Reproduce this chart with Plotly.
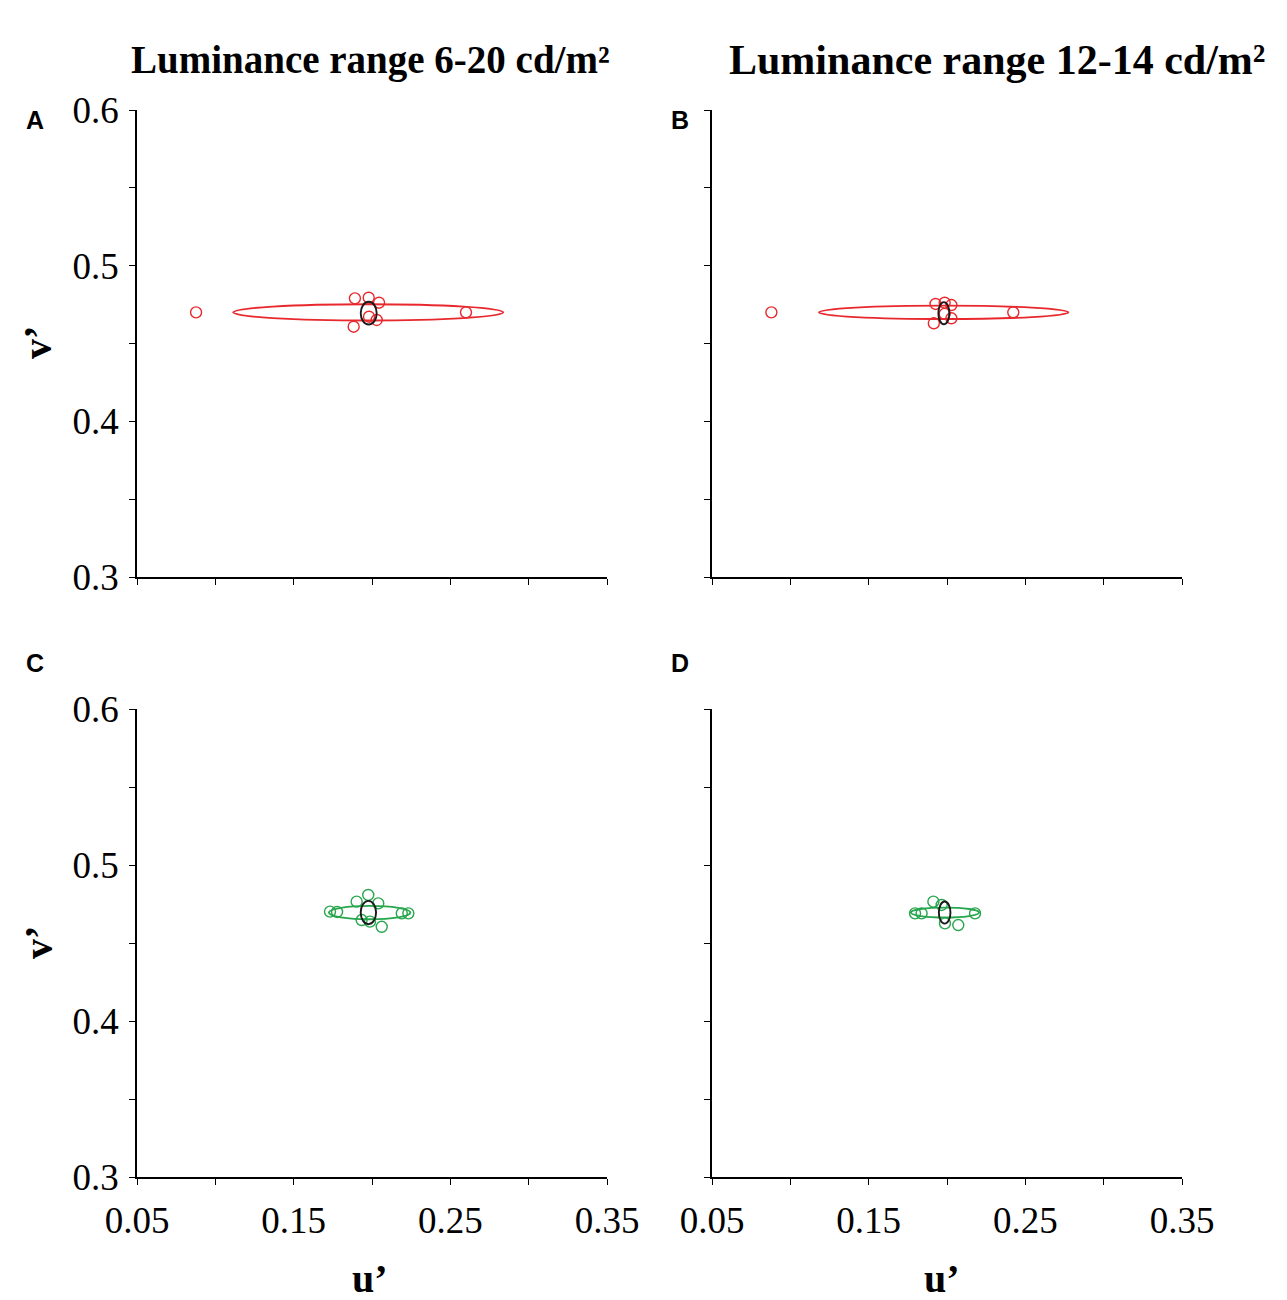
import plotly.graph_objects as go

# chromaticity data (u', v')
ua = [0.0877, 0.1891, 0.1979, 0.2045, 0.1981, 0.2030, 0.1883, 0.2600]
va = [0.470, 0.479, 0.4794, 0.4762, 0.4672, 0.4651, 0.4608, 0.470]

ub = [0.0879, 0.1927, 0.1985, 0.2028, 0.2028, 0.1916, 0.1985, 0.2423]
vb = [0.470, 0.4754, 0.4762, 0.4747, 0.4662, 0.4630, 0.469, 0.470]

uc = [0.1732, 0.1777, 0.1902, 0.1976, 0.2040, 0.1934, 0.1987, 0.2062, 0.2190, 0.2232]
vc = [0.4701, 0.4699, 0.4765, 0.4808, 0.4754, 0.4647, 0.4637, 0.4604, 0.4690, 0.4690]

ud = [0.1796, 0.1838, 0.1913, 0.1966, 0.1987, 0.2072, 0.2179]
vd = [0.469, 0.469, 0.4765, 0.4744, 0.4626, 0.4615, 0.469]

# ellipses: (center u, center v, semi-axis u, semi-axis v)
ell_a = [(0.1976, 0.470, 0.0862, 0.0052), (0.1979, 0.4695, 0.0051, 0.0073)]
ell_b = [(0.1979, 0.470, 0.0796, 0.0043), (0.1980, 0.4695, 0.0035, 0.0071)]
ell_c = [(0.1985, 0.4695, 0.0260, 0.0043), (0.1977, 0.4695, 0.0049, 0.0075)]
ell_d = [(0.1987, 0.4695, 0.0218, 0.0032), (0.1985, 0.4695, 0.0037, 0.0071)]

xticks = [0.05, 0.10, 0.15, 0.20, 0.25, 0.30, 0.35]
xlabels = ["0.05", "", "0.15", "", "0.25", "", "0.35"]
yticks = [0.30, 0.35, 0.40, 0.45, 0.50, 0.55, 0.60]
ylabels = ["0.3", "", "0.4", "", "0.5", "", "0.6"]

RED = "#e8282d"
GREEN = "#27a64d"
W, H = 1287, 1300
OFF = 8  # page margin of the browser, subtract from target pixel positions

panels = [
    ("x", "y", ua, va, ell_a, RED),
    ("x2", "y2", ub, vb, ell_b, RED),
    ("x3", "y3", uc, vc, ell_c, GREEN),
    ("x4", "y4", ud, vd, ell_d, GREEN),
]

fig = go.Figure()
shapes = []
for xr, yr, u, v, ells, col in panels:
    fig.add_trace(go.Scatter(
        x=u, y=v, xaxis=xr, yaxis=yr, mode="markers",
        marker=dict(symbol="circle-open", size=11, color=col, line=dict(width=1.4)),
        showlegend=False))
    for i, (cu, cv, au, av) in enumerate(ells):
        shapes.append(dict(type="circle", xref=xr, yref=yr,
                           x0=cu - au, x1=cu + au, y0=cv - av, y1=cv + av,
                           line=dict(color=col if i == 0 else "#1a1a1a", width=1.9)))

serif = "Liberation Serif"


def fx(px):
    return (px - OFF) / W


def fy(py):
    return 1 - (py - OFF) / H


dx = [(fx(137), fx(607)), (fx(712), fx(1182))]
dy = [(fy(577), fy(110)), (fy(1177), fy(709))]


def xaxis(dom, labels, anchor):
    return dict(domain=dom, range=[0.05, 0.35], anchor=anchor, automargin=False,
                tickvals=xticks, ticktext=labels if labels else [""] * 7,
                ticks="outside", ticklen=6, tickwidth=1.2, tickcolor="black",
                showline=True, linecolor="black", linewidth=1.5,
                showgrid=False, zeroline=False, ticklabelstandoff=4,
                tickfont=dict(family=serif, size=37, color="black"))


def yaxis(dom, labels, anchor):
    return dict(domain=dom, range=[0.3, 0.6], anchor=anchor, automargin=False,
                tickvals=yticks, ticktext=labels if labels else [""] * 7,
                ticks="outside", ticklen=6, tickwidth=1.2, tickcolor="black",
                showline=True, linecolor="black", linewidth=1.5,
                showgrid=False, zeroline=False, ticklabelstandoff=3,
                tickfont=dict(family=serif, size=37, color="black"))


fig.update_layout(
    width=W, height=H, margin=dict(l=0, r=0, t=0, b=0, autoexpand=False),
    plot_bgcolor="white", paper_bgcolor="white",
    xaxis=xaxis(dx[0], None, "y"), yaxis=yaxis(dy[0], ylabels, "x"),
    xaxis2=xaxis(dx[1], None, "y2"), yaxis2=yaxis(dy[0], None, "x2"),
    xaxis3=xaxis(dx[0], xlabels, "y3"), yaxis3=yaxis(dy[1], ylabels, "x3"),
    xaxis4=xaxis(dx[1], xlabels, "y4"), yaxis4=yaxis(dy[1], None, "x4"),
    shapes=shapes,
)


def label(text, px, py, size, family=serif, angle=0):
    return dict(text=text, x=fx(px), y=fy(py), xref="paper", yref="paper",
                xanchor="center", yanchor="middle", textangle=angle,
                showarrow=False, font=dict(family=family, size=size, color="black"))


ann = []
for t, px, sz in [("Luminance range 6-20 cd/m²", 370, 39), ("Luminance range 12-14 cd/m²", 997, 42)]:
    ann.append(label("<b>" + t + "</b>", px, 60, sz))
for letter, px, py in [("A", 35, 120), ("B", 680, 120), ("C", 35, 663), ("D", 680, 663)]:
    ann.append(label("<b>" + letter + "</b>", px, py, 25, family="Liberation Sans"))
for py in [343, 943]:
    ann.append(label("<b>v’</b>", 38, py, 40, angle=-90))
for px in [370, 942]:
    ann.append(label("<b>u’</b>", px, 1278, 40))
fig.update_layout(annotations=ann)

fig.write_html("out.html")
